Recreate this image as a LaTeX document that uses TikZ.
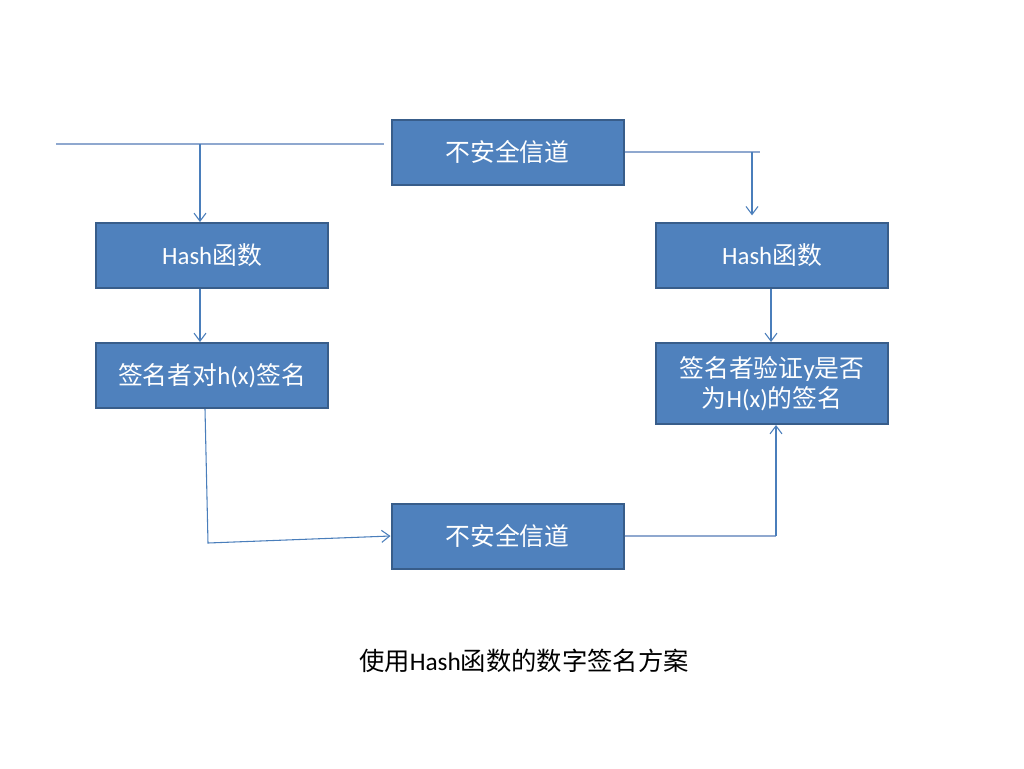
\documentclass[tikz,border=0pt]{standalone}
\usepackage{fontspec}
\setmainfont{Noto Sans CJK SC}
\newfontfamily\lat{Carlito}
\usetikzlibrary{arrows.meta}
\definecolor{boxfill}{HTML}{4F81BD}
\definecolor{boxline}{HTML}{385D8A}
\definecolor{arrcol}{HTML}{4A7EBB}
\definecolor{plaincol}{HTML}{8FA8CF}
\tikzset{
  box/.style={draw=boxline, line width=1.5pt, fill=boxfill, text=white,
    minimum width=174pt, minimum height=48.75pt, inner sep=2pt, align=center,
    font=\fontsize{18.6pt}{22.5pt}\selectfont},
  arr/.style={draw=arrcol, line width=0.8pt, -{Straight Barb[length=6pt,width=9pt]}},
  plain/.style={draw=plaincol, line width=1pt},
}
\begin{document}
\begin{tikzpicture}[x=0.75pt,y=-0.75pt]
\useasboundingbox (0,0) rectangle (1024,768);
\node[box] (ch1) at (507.5,152) {不安全信道};
\node[box] (hashL) at (212,255.5) {{\lat Hash}函数};
\node[box] (signL) at (212,375.5) {签名者对{\lat h(x)}签名};
\node[box] (hashR) at (772,255.5) {{\lat Hash}函数};
\node[box, minimum height=60.75pt] (verR) at (772,383.5) {签名者验证{\lat y}是否\\为{\lat H(x)}的签名};
\node[box] (ch2) at (507.5,536) {不安全信道};
\node[font=\fontsize{19pt}{23pt}\selectfont] (cap) at (524,661) {使用{\lat Hash}函数的数字签名方案};

\coordinate (tl0) at (56,144);
\coordinate (tl1) at (384,144);
\coordinate (vL) at (200,144);
\coordinate (tr1) at (760,152);
\coordinate (vR) at (752,152);
\coordinate (vR2) at (771,300);
\coordinate (bl) at (208,543);
\coordinate (br) at (776,536);

\draw[plain] (tl0) -- (tl1);
\draw[arr] (vL) -- (vL |- hashL.north);
\draw[plain] (ch1.east) -- (tr1);
\draw[arr, shorten >=5pt] (vR) -- (vR |- hashR.north);
\draw[arr] (vL |- hashL.south) -- (vL |- signL.north);
\draw[arr] (vR2 |- hashR.south) -- (vR2 |- verR.north);
\draw[arr] ([xshift=-5.25pt]signL.south) -- (bl) -- (ch2.west);
\draw[plain] (ch2.east) -- (br);
\draw[arr] (br) -- ([xshift=3pt]verR.south);
\end{tikzpicture}
\end{document}
